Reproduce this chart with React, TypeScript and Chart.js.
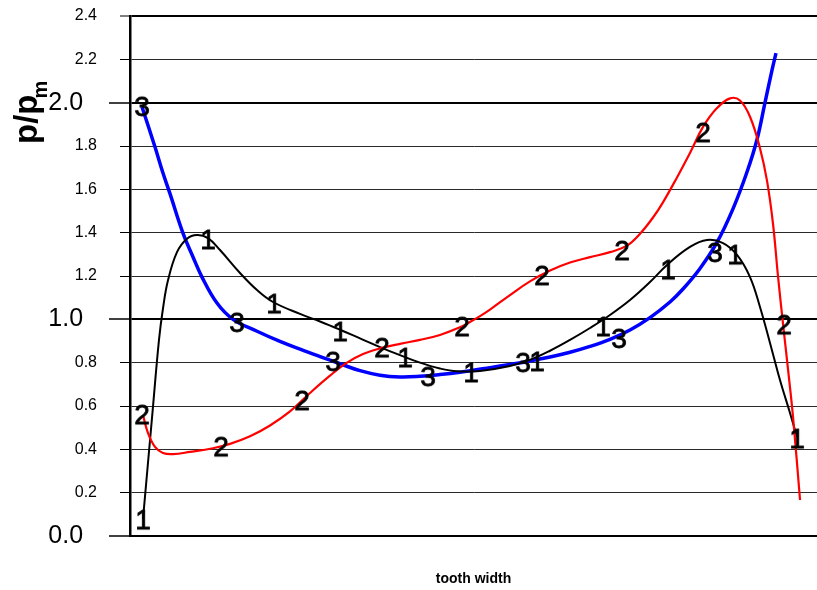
import React, { useEffect, useRef } from 'react';
import { Chart, registerables } from 'chart.js';

Chart.register(...registerables);

// ---------- data ----------
const xTitle = 'tooth width';
const yTitleMain = 'p/p';
const yTitleSub = 'm';
const seriesDigits = ['1', '2', '3'];
const yMin = 0;
const yMax = 2.4;
const yStep = 0.2;
const xMin = 0;
const xMax = 10;

// curve 1 (black)
const curve1: [number, number][] = [
  [0.189, 0.078], [0.33, 0.58], [0.422, 0.905], [0.48, 1.05], [0.553, 1.18], [0.684, 1.31],
  [0.83, 1.372], [0.975, 1.389], [1.135, 1.375], [1.31, 1.32], [1.601, 1.214], [1.849, 1.135],
  [2.082, 1.08], [2.475, 1.025], [2.766, 0.99], [3.057, 0.952], [3.348, 0.912], [3.639, 0.872],
  [3.93, 0.835], [4.221, 0.8], [4.512, 0.773], [4.76, 0.76], [5.095, 0.762], [5.531, 0.785],
  [5.822, 0.813], [6.114, 0.855], [6.405, 0.905], [6.696, 0.96], [6.987, 1.02], [7.278, 1.089],
  [7.569, 1.172], [7.817, 1.251], [8.151, 1.334], [8.399, 1.366], [8.632, 1.352], [8.836, 1.297],
  [9.025, 1.195], [9.17, 1.057], [9.316, 0.891], [9.461, 0.72], [9.607, 0.568], [9.709, 0.457],
];

// curve 2 (red)
const curve2: [number, number][] = [
  [0.189, 0.558], [0.262, 0.475], [0.364, 0.411], [0.48, 0.383], [0.626, 0.378], [0.873, 0.388],
  [1.208, 0.405], [1.456, 0.425], [1.747, 0.46], [2.038, 0.51], [2.329, 0.575], [2.62, 0.66],
  [2.911, 0.74], [3.159, 0.8], [3.392, 0.84], [3.639, 0.866], [3.93, 0.887], [4.221, 0.905],
  [4.512, 0.928], [4.803, 0.963], [4.949, 0.988], [5.095, 1.015], [5.24, 1.045], [5.531, 1.112],
  [5.822, 1.175], [6.114, 1.225], [6.405, 1.262], [6.696, 1.287], [6.987, 1.31], [7.234, 1.34],
  [7.424, 1.395], [7.613, 1.47], [7.758, 1.54], [7.962, 1.655], [8.151, 1.768], [8.341, 1.888],
  [8.544, 1.975], [8.734, 2.02], [8.879, 2.01], [9.025, 1.935], [9.17, 1.79], [9.272, 1.64],
  [9.36, 1.44], [9.432, 1.2], [9.505, 0.98], [9.578, 0.77], [9.651, 0.55], [9.753, 0.166],
];

// curve 3 (blue)
const curve3: [number, number][] = [
  [0.175, 1.98], [0.364, 1.795], [0.48, 1.675], [0.582, 1.58], [0.771, 1.398], [0.917, 1.288],
  [1.048, 1.195], [1.266, 1.075], [1.499, 1.0], [1.849, 0.945], [2.183, 0.898], [2.475, 0.862],
  [2.766, 0.828], [3.057, 0.795], [3.348, 0.763], [3.639, 0.742], [3.93, 0.734], [4.221, 0.737],
  [4.512, 0.745], [4.803, 0.756], [5.24, 0.777], [5.531, 0.792], [5.822, 0.808], [6.114, 0.826],
  [6.405, 0.848], [6.696, 0.875], [6.987, 0.908], [7.278, 0.951], [7.569, 1.008], [7.86, 1.08],
  [8.049, 1.14], [8.297, 1.235], [8.544, 1.355], [8.777, 1.51], [8.981, 1.68], [9.127, 1.83],
  [9.243, 2.0], [9.345, 2.15], [9.403, 2.229],
];

// labelled points
const markers1: [number, number][] = [
  [0.189, 0.078], [1.135, 1.371], [2.096, 1.075], [3.057, 0.946], [4.003, 0.826], [4.964, 0.757],
  [5.924, 0.808], [6.885, 0.969], [7.831, 1.232], [8.806, 1.301], [9.709, 0.452],
];
const markers2: [number, number][] = [
  [0.175, 0.563], [1.325, 0.415], [2.504, 0.628], [3.668, 0.872], [4.833, 0.969], [5.997, 1.205],
  [7.162, 1.32], [8.341, 1.865], [9.52, 0.978],
];
const markers3: [number, number][] = [
  [0.175, 1.985], [1.557, 0.988], [2.955, 0.808], [4.338, 0.738], [5.721, 0.803], [7.118, 0.914],
  [8.515, 1.311],
];

// ---------- helpers ----------
const FONT = '"Liberation Sans", Arial, Helvetica, sans-serif';
const toPts = (arr: [number, number][]) => arr.map(([x, y]) => ({ x, y }));
const isMajor = (v: number) => Math.abs(v - Math.round(v)) < 1e-6 && v < 2.2;

function digitSprite(d: string): HTMLCanvasElement {
  const c = document.createElement('canvas');
  c.width = 34;
  c.height = 34;
  const g = c.getContext('2d')!;
  const size = 28;
  g.font = `${size}px ${FONT}`;
  g.fillStyle = '#000';
  g.strokeStyle = '#000';
  g.lineWidth = 0.8;
  g.textAlign = 'center';
  g.textBaseline = 'alphabetic';
  const by = 17 + (0.716 * size) / 2;
  g.fillText(d, 17, by);
  g.strokeText(d, 17, by);
  return c;
}

const yTitlePlugin = {
  id: 'yTitlePlugin',
  afterDraw(chart: any) {
    const ctx = chart.ctx as CanvasRenderingContext2D;
    ctx.save();
    ctx.translate(37, 144);
    ctx.rotate(-Math.PI / 2);
    ctx.fillStyle = '#000';
    ctx.textAlign = 'left';
    ctx.textBaseline = 'alphabetic';
    ctx.font = `bold 33px ${FONT}`;
    ctx.fillText(yTitleMain, 0, 0);
    const w = ctx.measureText(yTitleMain).width;
    ctx.font = `bold 20px ${FONT}`;
    ctx.fillText(yTitleSub, w - 4, 10);
    ctx.restore();
  },
};

export default function App() {
  const ref = useRef<HTMLCanvasElement | null>(null);

  useEffect(() => {
    if (!ref.current) return;
    const lineDs = (data: [number, number][], color: string, width: number, order: number) => ({
      type: 'line' as const,
      data: toPts(data),
      borderColor: color,
      backgroundColor: color,
      borderWidth: width,
      pointRadius: 0,
      tension: 0.4,
      fill: false,
      clip: false,
      order,
    });
    const markDs = (data: [number, number][], digit: string) => ({
      type: 'scatter' as const,
      data: toPts(data),
      pointStyle: digitSprite(digit),
      pointRadius: 6,
      showLine: false,
      clip: false,
      order: -1,
    });

    const chart = new Chart(ref.current, {
      type: 'line',
      data: {
        datasets: [
          lineDs(curve3, '#0000ff', 3.5, 3),
          lineDs(curve1, '#000000', 2, 2),
          lineDs(curve2, '#ff0000', 2.2, 1),
          markDs(markers1, seriesDigits[0]),
          markDs(markers2, seriesDigits[1]),
          markDs(markers3, seriesDigits[2]),
        ] as any,
      },
      options: {
        responsive: false,
        animation: false,
        layout: { autoPadding: false, padding: { top: 16, right: 0, left: 0, bottom: 0 } },
        plugins: { legend: { display: false }, tooltip: { enabled: false } },
        scales: {
          x: {
            type: 'linear',
            min: xMin,
            max: xMax,
            ticks: { display: false },
            grid: { display: false, drawTicks: false },
            border: { display: true, color: '#000', width: 2 },
            title: {
              display: true,
              text: xTitle,
              color: '#000',
              font: { family: FONT, size: 14, weight: 'bold' },
              padding: { top: 0, bottom: 2 },
            },
            afterFit: (s: any) => {
              s.height = 54;
              s.paddingLeft = 0;
              s.paddingRight = 0;
            },
          },
          y: {
            type: 'linear',
            min: yMin,
            max: yMax,
            ticks: {
              stepSize: yStep,
              padding: 12,
              color: '#000',
              font: (c: any) => ({ family: FONT, size: c.tick && isMajor(c.tick.value) ? 25 : 16 }),
              callback: (v: any) => Number(v).toFixed(1) + (isMajor(Number(v)) ? '  ' : ''),
            },
            grid: {
              color: (c: any) => (c.tick && (isMajor(c.tick.value) || c.tick.value > 2.3) ? '#000' : '#2a2a2a'),
              lineWidth: (c: any) => (c.tick && (isMajor(c.tick.value) || c.tick.value > 2.3) ? 2 : 1),
              tickLength: 21,
              tickColor: '#000',
              tickWidth: (c: any) => (c.tick && isMajor(c.tick.value) ? 1.5 : 1),
              tickBorderDash: (c: any) => (c.tick && isMajor(c.tick.value) ? [] : [0, 11, 40, 0]),
            },
            border: { display: true, color: '#000', width: 2.5 },
            afterFit: (s: any) => {
              s.width = 130;
              s.paddingTop = 0;
              s.paddingBottom = 0;
            },
          },
        },
      } as any,
      plugins: [yTitlePlugin],
    });
    return () => chart.destroy();
  }, []);

  return (
    <div style={{ position: 'fixed', left: 0, top: 0, width: 817, height: 590, background: '#fff' }}>
      <canvas ref={ref} width={817} height={590} style={{ display: 'block' }} />
    </div>
  );
}
